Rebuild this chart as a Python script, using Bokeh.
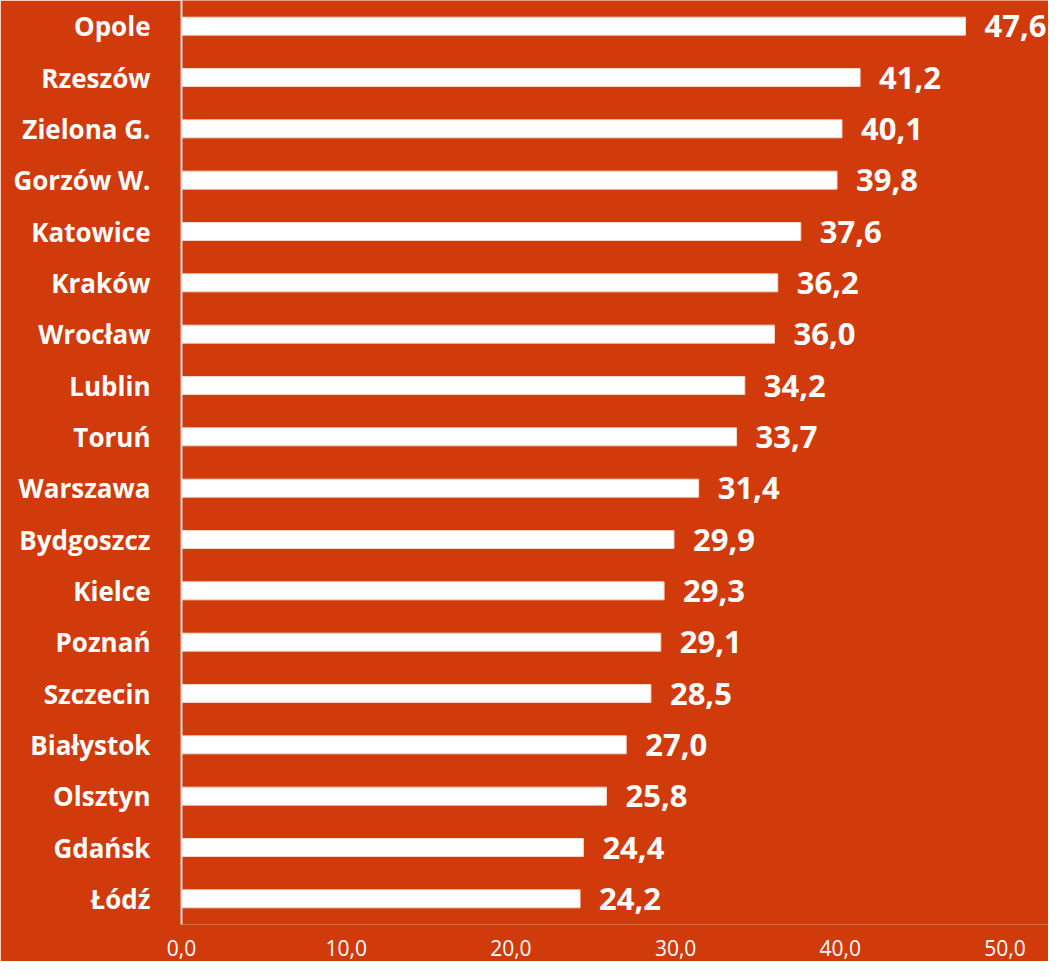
from bokeh.plotting import figure
from bokeh.models import ColumnDataSource, FactorRange, Range1d, FixedTicker
from bokeh.core.properties import value
from bokeh.embed import file_html
from bokeh.resources import INLINE

cities = ["Opole", "Rzeszów", "Zielona G.", "Gorzów W.", "Katowice", "Kraków", "Wrocław",
          "Lublin", "Toruń", "Warszawa", "Bydgoszcz", "Kielce", "Poznań", "Szczecin",
          "Białystok", "Olsztyn", "Gdańsk", "Łódź"]
values = [47.6, 41.2, 40.1, 39.8, 37.6, 36.2, 36.0, 34.2, 33.7, 31.4, 29.9, 29.3, 29.1,
          28.5, 27.0, 25.8, 24.4, 24.2]
tick_values = [0, 10, 20, 30, 40, 50]
tick_labels = ["0,0", "10,0", "20,0", "30,0", "40,0", "50,0"]

BG = "#D13A0B"

src = ColumnDataSource(dict(
    city=cities,
    value=values,
    label=[f"{v:.1f}".replace(".", ",") for v in values],
))

p = figure(
    y_range=FactorRange(factors=cities[::-1]),
    x_range=Range1d(0, 52.64),
    width=1048, height=961,
    output_backend="svg", toolbar_location=None,
    background_fill_color=BG, border_fill_color=BG,
    outline_line_color=None,
    min_border_left=181, min_border_right=0, min_border_top=0, min_border_bottom=37,
)

p.hbar(y="city", left=0, right="value", height=0.35, source=src,
       fill_color="white", line_color="#F3D5CA", line_width=1)

p.text(x="value", y="city", text="label", source=src, x_offset=19,
       text_align="left", text_baseline="middle",
       text_font=value("Open Sans"), text_font_style="bold",
       text_font_size="31px", text_color="white")

p.xgrid.visible = False
p.ygrid.visible = False

xa = p.xaxis[0]
xa.ticker = FixedTicker(ticks=tick_values)
xa.major_label_overrides = {t: l for t, l in zip(tick_values, tick_labels)}
xa.axis_line_color = None
xa.major_tick_line_color = None
xa.minor_tick_line_color = None
xa.major_tick_out = 0
xa.major_tick_in = 0
xa.major_label_standoff = 15
xa.major_label_text_font = "Open Sans"
xa.major_label_text_font_size = "21px"
xa.major_label_text_line_height = 0.8
xa.major_label_text_color = "white"

ya = p.yaxis[0]
ya.axis_line_color = "#DDDDDD"
ya.axis_line_width = 2
ya.major_tick_line_color = None
ya.minor_tick_line_color = None
ya.major_tick_out = 0
ya.major_tick_in = 0
ya.major_label_standoff = 31
ya.major_label_text_font = "Open Sans"
ya.major_label_text_font_style = "bold"
ya.major_label_text_font_size = "26px"
ya.major_label_text_color = "white"

open("out.html", "w").write(file_html(p, INLINE))
